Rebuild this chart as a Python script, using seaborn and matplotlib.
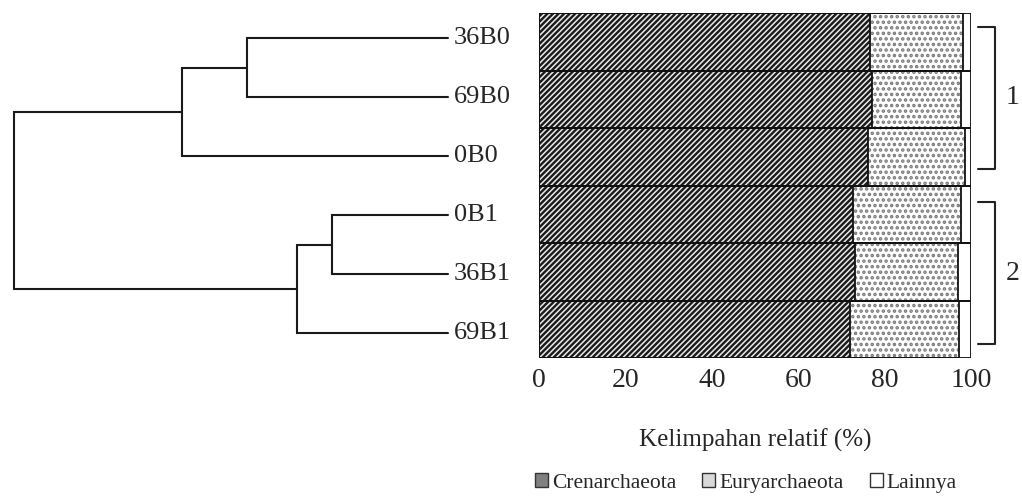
import matplotlib
matplotlib.use("Agg")
import matplotlib.pyplot as plt
from matplotlib.patches import Patch
import numpy as np
import pandas as pd
import seaborn as sns

# Samples (top to bottom) and relative abundance (%) per phylum
samples = ["36B0", "69B0", "0B0", "0B1", "36B1", "69B1"]
crenarchaeota = [76.6, 77.0, 76.1, 72.8, 73.1, 72.0]
euryarchaeota = [21.6, 20.7, 22.5, 24.9, 24.0, 25.2]
lainnya = [1.8, 2.3, 1.4, 2.3, 2.9, 2.8]
phyla = ["Crenarchaeota", "Euryarchaeota", "Lainnya"]
x_ticks = [0, 20, 40, 60, 80, 100]

# Cluster tree: (left child, right child, merge distance); leaves are 0..5,
# new nodes are numbered 6, 7, ... in the order they are created
merges = [
    (3, 4, 0.267),
    (6, 5, 0.348),
    (0, 1, 0.463),
    (8, 2, 0.613),
    (9, 7, 1.000),
]
cluster_labels = ["1", "2"]

sns.set_theme(style="white")
plt.rcParams["font.family"] = ["Liberation Serif", "DejaVu Serif"]
plt.rcParams["hatch.linewidth"] = 1.7

fig = plt.figure(figsize=(10.22, 4.97), dpi=100)

# ---- stacked horizontal bars ----
ax = fig.add_axes([539 / 1022, 1 - 358 / 497, 432 / 1022, 345 / 497])
df = pd.DataFrame({"sample": samples, "Crenarchaeota": crenarchaeota,
                   "Euryarchaeota": euryarchaeota, "Lainnya": lainnya})
cum = df[phyla].cumsum(axis=1)
# face colour, hatch pattern, hatch colour per phylum
styles = {
    "Lainnya": ("white", "", "black"),
    "Euryarchaeota": ("white", "...", "#7a7a7a"),
    "Crenarchaeota": ("#e8e8e8", "//////", "#1a1a1a"),
}
for ph in reversed(phyla):
    face, hatch, hcol = styles[ph]
    n_before = len(ax.patches)
    sns.barplot(x=cum[ph], y=df["sample"], orient="h", ax=ax, width=1.0,
                color=face, edgecolor=hcol, linewidth=0, saturation=1)
    for p in ax.patches[n_before:]:
        p.set_hatch(hatch)
        p.set_facecolor(face)

# black outlines of every segment
for ph in reversed(phyla):
    sns.barplot(x=cum[ph], y=df["sample"], orient="h", ax=ax, width=1.0,
                fill=False, edgecolor="#111111", linewidth=1.3)

ax.set_xlim(0, 100)
ax.set_ylim(5.5, -0.5)
ax.set_xticks(x_ticks)
ax.set_xticklabels([str(t) for t in x_ticks], fontsize=20)
ax.tick_params(axis="x", length=0, pad=7)
ax.set_yticks([])
ax.set_xlabel("")
ax.set_ylabel("")
for s in ax.spines.values():
    s.set_visible(False)

# cluster brackets on the right
for (y0, y1), lab in zip([(-0.257, 2.213), (2.787, 5.257)], cluster_labels):
    ax.plot([101.6, 105.6, 105.6, 101.6], [y0, y0, y1, y1], color="#222222",
            lw=1.5, clip_on=False)
    ax.text(108.0, (y0 + y1) / 2, lab, fontsize=20, va="center", ha="left",
            clip_on=False)

# ---- dendrogram ----
dax = fig.add_axes([14 / 1022, 1 - 362.5 / 497, 434 / 1022, 354 / 497])
dax.set_xlim(1.0, 0.0)
dax.set_ylim(5.5, -0.5)
dax.axis("off")
node_y = {i: float(i) for i in range(len(samples))}
node_h = {i: 0.0 for i in range(len(samples))}
for k, (a, b, h) in enumerate(merges):
    nid = len(samples) + k
    ya, yb = node_y[a], node_y[b]
    dax.plot([node_h[a], h, h, node_h[b]], [ya, ya, yb, yb],
             color="#1a1a1a", lw=1.5, solid_joinstyle="miter", clip_on=False)
    node_y[nid] = (ya + yb) / 2
    node_h[nid] = h
for i, name in enumerate(samples):
    dax.annotate(name, xy=(0, i), xytext=(4, 0), textcoords="offset points",
                 fontsize=19, va="center", ha="left", annotation_clip=False)

# ---- axis title and legend ----
fig.text(755 / 1022, 1 - 440 / 497, "Kelimpahan relatif (%)", fontsize=18,
         ha="center", va="center")
handles = [
    Patch(facecolor="#808080", edgecolor="#333333", linewidth=1),
    Patch(facecolor="#d9d9d9", edgecolor="#333333", linewidth=1),
    Patch(facecolor="white", edgecolor="#333333", linewidth=1),
]
fig.legend(handles, phyla, loc="center", bbox_to_anchor=(746 / 1022, 1 - 483 / 497),
           ncol=3, frameon=False, fontsize=15.5, handlelength=0.6, handleheight=0.6,
           handletextpad=0.2, columnspacing=1.2, borderaxespad=0, borderpad=0)

fig.savefig("out.png", dpi=100)
